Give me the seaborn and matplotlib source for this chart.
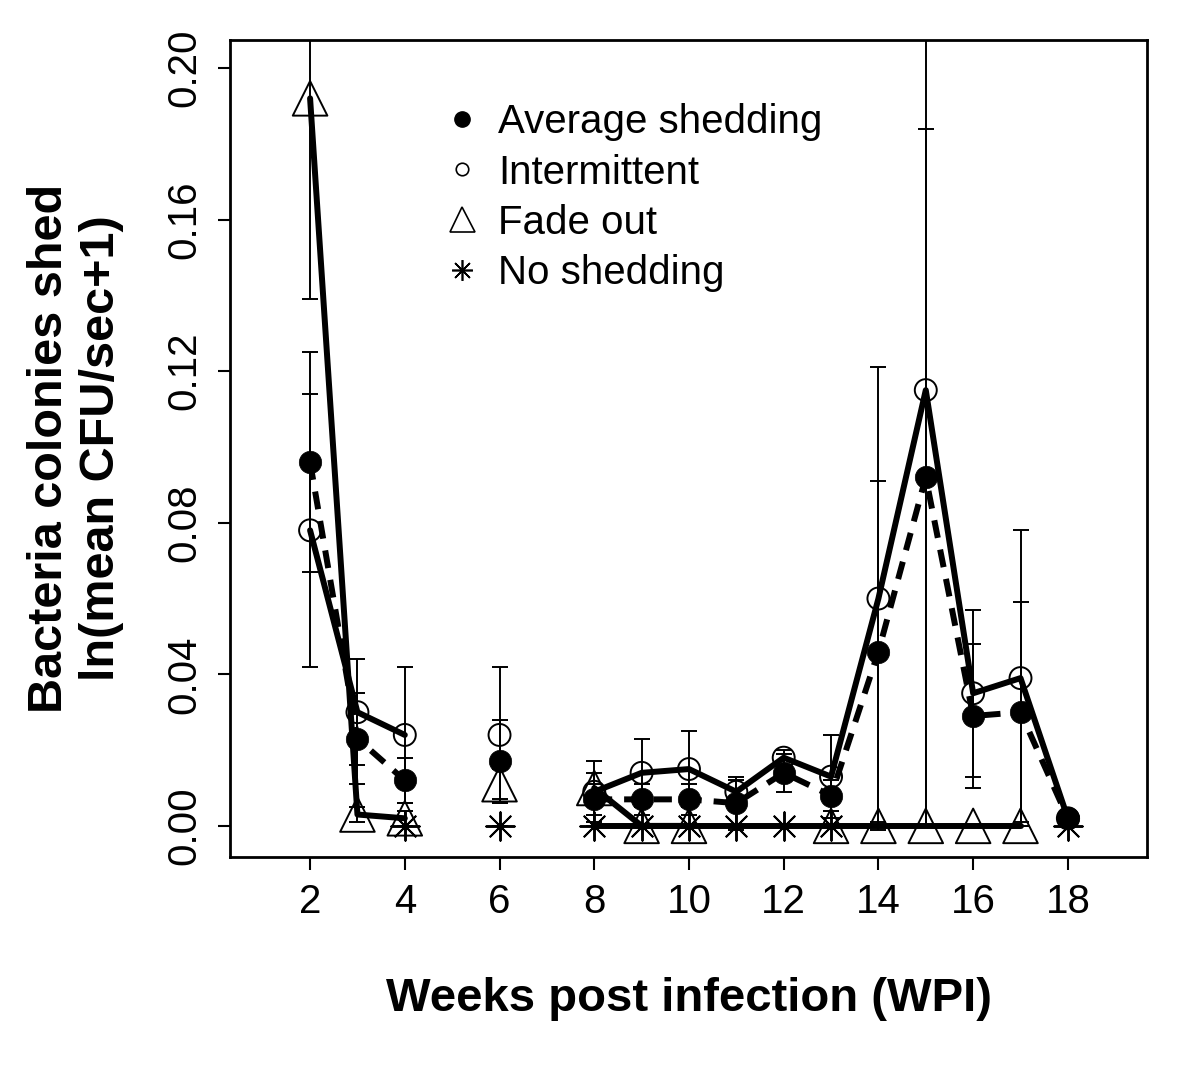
"""
Bacteria shedding by week post infection, four shedding groups
"""

import numpy as np
import pandas as pd
import matplotlib
matplotlib.use("Agg")
import matplotlib.pyplot as plt
from matplotlib.lines import Line2D
import seaborn as sns

# values
weeks = [2, 3, 4, 6, 8, 9, 10, 11, 12, 13, 14, 15, 16, 17, 18]
avg_mean = [0.096, 0.023, 0.012, 0.017, 0.007, 0.007, 0.007, 0.006, 0.014, 0.008,
            0.046, 0.092, 0.029, 0.030, 0.002]
avg_err = [0.029, 0.012, 0.006, 0.011, 0.004, 0.004, 0.004, 0.007, 0.005, 0.004,
           0.045, 0.092, 0.019, 0.029, 0.001]
int_mean = [0.078, 0.030, 0.024, 0.024, 0.009, 0.014, 0.015, 0.009, 0.018, 0.013,
            0.060, 0.115, 0.035, 0.039, 0.002]
int_err = [0.036, 0.014, 0.018, 0.018, 0.008, 0.009, 0.010, 0.003, 0.002, 0.011,
           0.061, 0.115, 0.022, 0.039, 0.001]
fade_mean = [0.192, 0.003, 0.002, 0.011, 0.010, 0.0, 0.0, np.nan, np.nan, 0.0,
             0.0, 0.0, 0.0, 0.0, np.nan]
fade_err = [0.053, 0.002, 0.002, 0.004, 0.004, 0.0, 0.0, np.nan, np.nan, 0.0,
            0.0, 0.0, 0.0, 0.0, np.nan]
none_mean = [np.nan, np.nan, 0.0, 0.0, 0.0, 0.0, 0.0, 0.0, 0.0, 0.0,
             np.nan, np.nan, np.nan, np.nan, 0.0]
none_err = [np.nan, np.nan, 0.0, 0.0, 0.0, 0.0, 0.0, 0.0, 0.0, 0.0,
            np.nan, np.nan, np.nan, np.nan, 0.0]

labels = ["Average shedding", "Intermittent", "Fade out", "No shedding"]
x_ticks = [2, 4, 6, 8, 10, 12, 14, 16, 18]
y_ticks = [0.00, 0.04, 0.08, 0.12, 0.16, 0.20]


def build_frame(mean, err):
    """Keep the weeks with a value and give each unbroken run its own segment id."""
    df = pd.DataFrame({"week": weeks, "value": mean, "err": err}).dropna()
    gap = df["week"].diff().fillna(1) > 1
    df["seg"] = gap.cumsum()
    return df


sns.set_theme(style="ticks")
plt.rcParams["font.family"] = ["Liberation Sans", "DejaVu Sans"]
plt.rcParams.update({
    "text.color": "black",
    "axes.labelcolor": "black",
    "xtick.color": "black",
    "ytick.color": "black",
})

fig = plt.figure(figsize=(12, 10.72), dpi=100)
ax = fig.add_axes([0.1917, 0.2006, 0.7641, 0.7621])

series = [
    (avg_mean, avg_err, dict(marker="o", s=260, facecolor="black", edgecolor="black",
                             linewidth=0.5), True),
    (int_mean, int_err, dict(marker="o", s=250, facecolor="none", edgecolor="black",
                             linewidth=1.4), False),
    (fade_mean, fade_err, dict(marker="^", s=620, facecolor="none", edgecolor="black",
                               linewidth=1.4), False),
    (none_mean, none_err, dict(marker=(8, 2, 0), s=420, color="black",
                               linewidth=1.4), False),
]

for mean, err, mk, dashed in series:
    df = build_frame(mean, err)
    n_before = len(ax.lines)
    sns.lineplot(data=df, x="week", y="value", units="seg", estimator=None,
                 color="black", linewidth=4.3, ax=ax, legend=False)
    if dashed:
        for ln in ax.lines[n_before:]:
            ln.set_linestyle((0, (3, 2)))
    ax.errorbar(df["week"], df["value"], yerr=df["err"], fmt="none",
                ecolor="black", elinewidth=1.4, capsize=6, capthick=1.4)
    sns.scatterplot(data=df, x="week", y="value", ax=ax, zorder=5,
                    legend=False, **mk)

ax.set_xlim(0.31, 19.67)
ax.set_ylim(-0.0082, 0.2074)
ax.set_xticks(x_ticks)
ax.set_xticklabels([str(t) for t in x_ticks])
ax.set_yticks(y_ticks)
ax.set_yticklabels([f"{t:.2f}" for t in y_ticks], rotation=90, va="center")
ax.tick_params(axis="both", labelsize=29, length=9, width=1.5, direction="out",
               pad=10)
for sp in ax.spines.values():
    sp.set_linewidth(2)
    sp.set_color("black")

ax.set_xlabel("Weeks post infection (WPI)", fontsize=34, fontweight="bold",
              labelpad=40)
ax.set_ylabel("Bacteria colonies shed\nln(mean CFU/sec+1)", fontsize=35,
              fontweight="bold", labelpad=30, linespacing=1.2)

handles = [
    Line2D([], [], marker="o", linestyle="none", markersize=11,
           markerfacecolor="black", markeredgecolor="black"),
    Line2D([], [], marker="o", linestyle="none", markersize=9,
           markerfacecolor="none", markeredgecolor="black", markeredgewidth=1.2),
    Line2D([], [], marker="^", linestyle="none", markersize=18,
           markerfacecolor="none", markeredgecolor="black", markeredgewidth=1.2),
    Line2D([], [], marker=(8, 2, 0), linestyle="none", markersize=15,
           color="black", markeredgewidth=1.2),
]
ax.legend(handles, labels, loc="upper left", bbox_to_anchor=(0.213, 0.947),
          frameon=False, fontsize=29, handlelength=0.8, handletextpad=0.5,
          labelspacing=0.3, borderpad=0)

fig.savefig("out.png", dpi=100, facecolor="white")
